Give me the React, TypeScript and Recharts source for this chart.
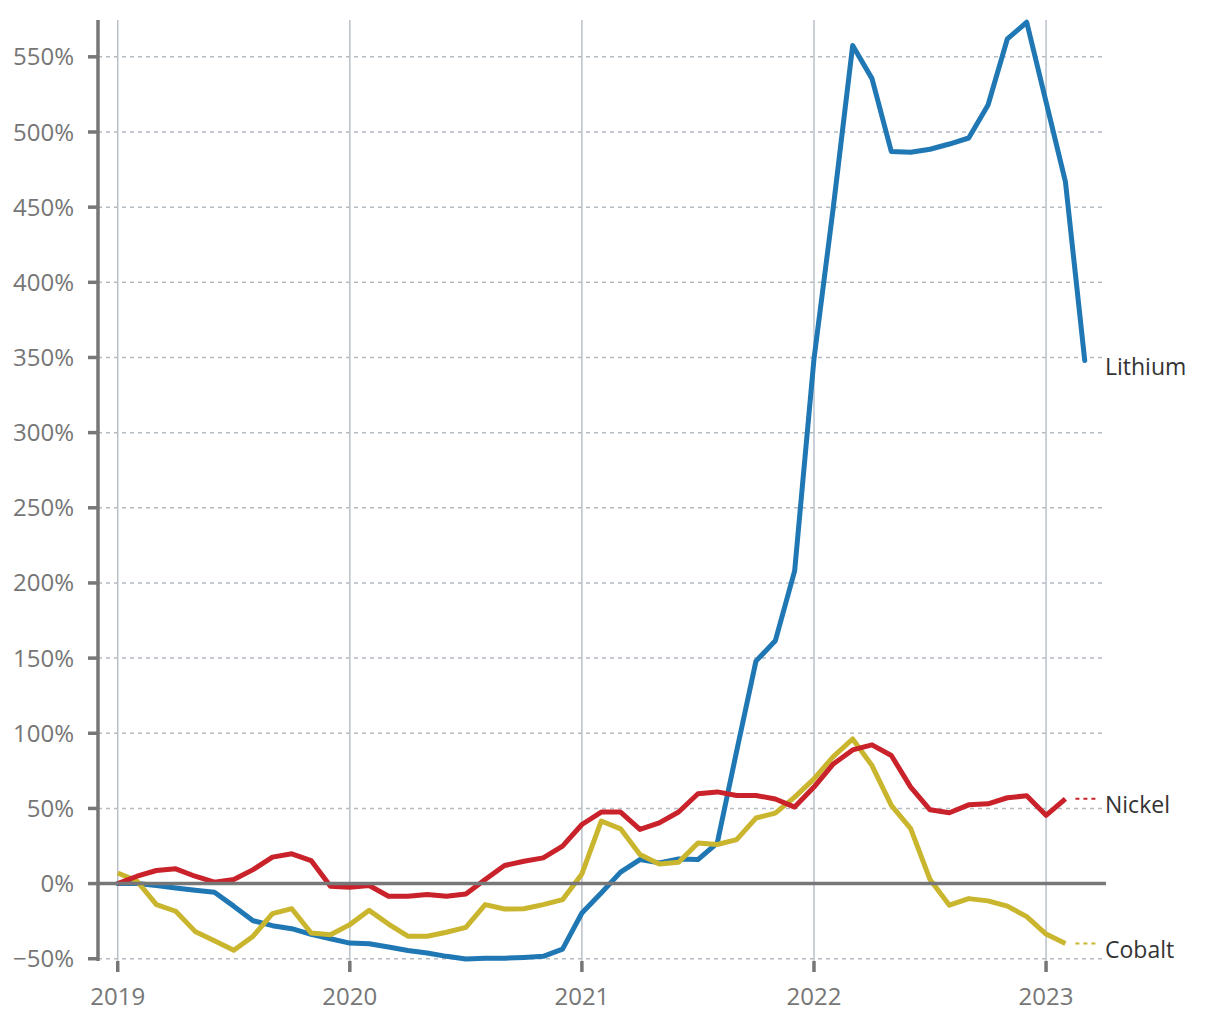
import { LineChart, Line, XAxis, YAxis, CartesianGrid, ReferenceLine } from "recharts";

// monthly, Jan 2019 .. Mar 2023 (% change since Jan 2019)
const months = Array.from({ length: 51 }, (_, i) => {
  const y = 2019 + Math.floor(i / 12);
  const m = (i % 12) + 1;
  return `${y}-${String(m).padStart(2, "0")}`;
});

const lithium = [
  0, 0, -1.3, -2.9, -4.4, -5.8, -15, -24.7, -28, -30, -33.8, -36.7,
  -39.6, -40, -42.2, -44.5, -46.2, -48.4, -50.2, -49.6, -49.6, -49.1, -48.4, -43.6,
  -19.6, -6.2, 7.6, 16, 13.8, 16.4, 16, 27, 88, 148, 161.5, 208,
  349, 450, 557.5, 535.5, 487, 486.5, 488.5, 492, 496, 518, 562, 573,
  520, 467, 348,
];

const nickel = [
  0, 4.9, 8.7, 9.8, 4.9, 0.9, 2.7, 9.3, 17.6, 19.8, 15.3, -1.8,
  -2.4, -1.3, -8.4, -8.4, -7.3, -8.4, -6.9, 2.7, 12, 14.9, 17.1, 24.9,
  39.3, 47.6, 47.6, 36, 40.4, 47.6, 59.8, 61, 58.6, 58.6, 56.3, 50.9,
  64.2, 79.6, 88.9, 92.3, 85.2, 64.2, 49.1, 47.1, 52.4, 53.1, 57.1, 58.4,
  45.4, 56.4,
];

const cobalt = [
  7, 1.6, -14, -18.4, -31.8, -38, -44.4, -35, -20, -16.7, -32.9, -34,
  -27.3, -17.8, -26.9, -35, -35, -32.4, -29.1, -14, -16.9, -16.7, -14, -10.7,
  6.4, 41.6, 36.4, 19.3, 13.1, 14.2, 27, 26, 29.2, 43.6, 46.9, 57.5,
  69.7, 84.5, 96.2, 78.5, 52, 36.5, 2.7, -14.4, -10, -11.5, -15, -22,
  -33.6, -39.8,
];

const yearTicks = [2019, 2020, 2021, 2022, 2023];
const pctTicks = [-50, 0, 50, 100, 150, 200, 250, 300, 350, 400, 450, 500, 550];

const data = months.map((m, i) => {
  const [y, mo] = m.split("-").map(Number);
  return {
    t: y + (mo - 1) / 12,
    lithium: lithium[i] ?? null,
    nickel: nickel[i] ?? null,
    cobalt: cobalt[i] ?? null,
  };
});

const X_DOMAIN = [2018.915, 2023.241];
const FONT = "'Open Sans', 'Noto Sans', sans-serif";
const LABEL_X = 1105;
const CONNECTOR_END = 1097;

function endLabel(name: string, color: string, lastIndex: number) {
  return (props: any) => {
    const { cx, cy, index } = props;
    if (index !== lastIndex || cx == null || cy == null) return <g key={`d-${name}-${index}`} />;
    return (
      <g key={`d-${name}-${index}`}>
        {CONNECTOR_END - (cx + 10) > 8 && (
          <line x1={cx + 10} x2={CONNECTOR_END} y1={cy} y2={cy} stroke={color} strokeWidth={2} strokeDasharray="4 4" />
        )}
        <text x={LABEL_X} y={cy + 14.5} fill="#333" fontSize={23} fontFamily={FONT}>
          {name}
        </text>
      </g>
    );
  };
}

export default function App() {
  return (
    <div style={{ position: "absolute", left: 0, top: 0, width: 1220, height: 1020, background: "#fff" }}>
      <LineChart width={1220} height={1020} data={data} margin={{ top: 20, right: 118, bottom: 0, left: 10 }}>
        <CartesianGrid
          vertical={false}
          horizontal={true}
          horizontalValues={pctTicks}
          stroke="#b3bbc3"
          strokeWidth={1.5}
          strokeDasharray="4 4"
        />
        {yearTicks.map((yr) => (
          <ReferenceLine key={yr} x={yr} stroke="#b8c1ca" strokeWidth={1.5} />
        ))}
        <XAxis
          dataKey="t"
          type="number"
          domain={X_DOMAIN}
          ticks={yearTicks}
          height={59}
          axisLine={false}
          tickSize={11}
          tickMargin={16}
          tickLine={{ stroke: "#777", strokeWidth: 3.5 }}
          tick={{ fill: "#767676", fontSize: 24, fontFamily: FONT }}
          tickFormatter={(v: number) => String(Math.round(v))}
        />
        <YAxis
          type="number"
          domain={[-51.5, 574.5]}
          ticks={pctTicks}
          width={88}
          axisLine={{ stroke: "#777", strokeWidth: 3.5 }}
          tickSize={10}
          tickMargin={14}
          tickLine={{ stroke: "#777", strokeWidth: 3.5 }}
          tick={{ fill: "#767676", fontSize: 24, fontFamily: FONT }}
          tickFormatter={(v: number) => (v < 0 ? `\u2212${Math.abs(v)}%` : `${v}%`)}
        />
        <Line
          type="linear"
          dataKey="lithium"
          stroke="#1f77b4"
          strokeWidth={5}
          strokeLinejoin="round"
          strokeLinecap="round"
          dot={endLabel("Lithium", "#1f77b4", lithium.length - 1)}
          activeDot={false}
          isAnimationActive={false}
        />
        <Line
          type="linear"
          dataKey="cobalt"
          stroke="#c9b52e"
          strokeWidth={5}
          strokeLinejoin="round"
          dot={endLabel("Cobalt", "#c9b52e", cobalt.length - 1)}
          activeDot={false}
          isAnimationActive={false}
        />
        <Line
          type="linear"
          dataKey="nickel"
          stroke="#c9222a"
          strokeWidth={5}
          strokeLinejoin="round"
          dot={endLabel("Nickel", "#c9222a", nickel.length - 1)}
          activeDot={false}
          isAnimationActive={false}
        />
        <ReferenceLine
          segment={[{ x: X_DOMAIN[0], y: 0 }, { x: 2023.258, y: 0 }]}
          ifOverflow="visible"
          stroke="#777"
          strokeWidth={3.5}
        />
      </LineChart>
    </div>
  );
}
